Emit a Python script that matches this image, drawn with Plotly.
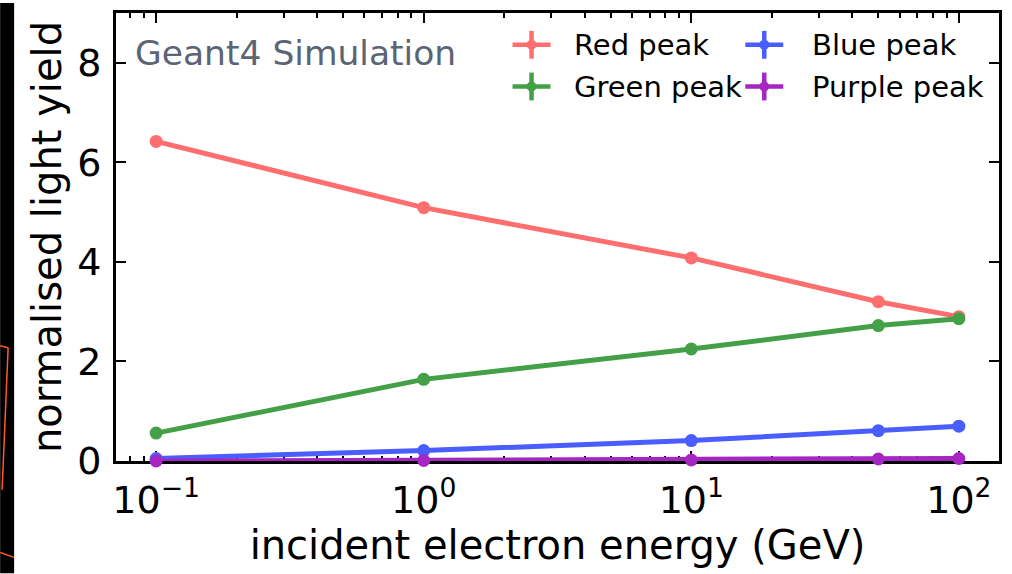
import plotly.graph_objects as go

# incident electron energies (GeV)
energy = [0.1, 1, 10, 50, 100]

# normalised light yield per emission peak
red_peak = [6.42, 5.09, 4.08, 3.20, 2.90]
green_peak = [0.56, 1.64, 2.25, 2.72, 2.86]
blue_peak = [0.05, 0.21, 0.41, 0.61, 0.70]
purple_peak = [0.00, 0.01, 0.02, 0.04, 0.05]

series_names = ["Red peak", "Green peak", "Blue peak", "Purple peak"]
series_values = [red_peak, green_peak, blue_peak, purple_peak]
series_colors = ["#ff6e6e", "#43a047", "#4a5dff", "#a626c4"]

x_tick_vals = [0.1, 1, 10, 100]
x_tick_text = ["10<sup>−1</sup>", "10<sup>0</sup>", "10<sup>1</sup>", "10<sup>2</sup>"]
y_tick_vals = [0, 2, 4, 6, 8]

W, H = 1012, 574
ML, MR, MT, MB = 116, 12, 10, 113
PW, PH = W - ML - MR, H - MT - MB
FONT = "DejaVu Sans"


def px(xp):
    return (xp - ML) / PW


def py(yp):
    return (H - MB - yp) / PH


fig = go.Figure()
for name, vals, col in zip(series_names, series_values, series_colors):
    fig.add_trace(go.Scatter(
        x=energy, y=vals, name=name, mode="lines+markers",
        line=dict(color=col, width=5),
        marker=dict(color=col, size=13),
        showlegend=False, cliponaxis=False,
    ))

shapes = []
annotations = []

# legend with errorbar-style glyphs, two columns
legend_cols = [(532, 573), (765, 811)]
legend_rows = [42, 84]
for i, name in enumerate(series_names):
    cx, tx = legend_cols[i // 2]
    cy = legend_rows[i % 2]
    col = series_colors[i]
    shapes.append(dict(type="line", xref="paper", yref="paper",
                       x0=px(cx - 19), x1=px(cx + 19), y0=py(cy), y1=py(cy),
                       line=dict(color=col, width=4.5)))
    shapes.append(dict(type="line", xref="paper", yref="paper",
                       x0=px(cx), x1=px(cx), y0=py(cy - 14), y1=py(cy + 14),
                       line=dict(color=col, width=4.5)))
    shapes.append(dict(type="circle", xref="paper", yref="paper",
                       x0=px(cx - 5), x1=px(cx + 5), y0=py(cy - 5), y1=py(cy + 5),
                       fillcolor=col, line=dict(width=0)))
    annotations.append(dict(text=name, xref="paper", yref="paper",
                            x=px(tx), y=py(cy), xanchor="left", yanchor="middle",
                            showarrow=False, font=dict(family=FONT, size=29, color="black")))

annotations.append(dict(text="Geant4 Simulation", xref="paper", yref="paper",
                        x=px(133), y=py(50), xanchor="left", yanchor="middle",
                        showarrow=False, font=dict(family=FONT, size=34.5, color="#5b6474")))

# dark slide edge on the far left
shapes.append(dict(type="rect", xref="paper", yref="paper",
                   x0=px(0), x1=px(14), y0=py(0), y1=py(H),
                   fillcolor="black", line=dict(width=0), layer="above"))
for (xa, ya, xb, yb) in [(0, 345, 8, 347), (8, 347, 2, 490), (0, 553, 14, 558)]:
    shapes.append(dict(type="line", xref="paper", yref="paper",
                       x0=px(xa), y0=py(ya), x1=px(xb), y1=py(yb),
                       line=dict(color="#ff5a1f", width=1.5), layer="above"))

minor_vals = [m * 10 ** k for k in range(-2, 3) for m in range(2, 10)]

fig.update_layout(
    width=W, height=H,
    margin=dict(l=ML, r=MR, t=MT, b=MB),
    paper_bgcolor="white", plot_bgcolor="white",
    font=dict(family=FONT, color="black"),
    shapes=shapes, annotations=annotations,
    xaxis=dict(
        type="log", range=[-1.15, 2.15],
        tickmode="array", tickvals=x_tick_vals, ticktext=x_tick_text,
        ticks="inside", ticklen=10, tickwidth=2, tickcolor="black",
        minor=dict(tickmode="array", tickvals=minor_vals, ticks="inside",
                   ticklen=5, tickwidth=1.5, tickcolor="black", showgrid=False),
        showline=True, linewidth=3, linecolor="black", mirror="allticks",
        showgrid=False, zeroline=False, layer="below traces",
        tickfont=dict(size=38, family=FONT),
        ticklabelstandoff=3,
        title=dict(text="incident electron energy (GeV)", font=dict(size=40, family=FONT), standoff=8),
    ),
    yaxis=dict(
        range=[0, 9], tickmode="array", tickvals=y_tick_vals,
        ticks="inside", ticklen=10, tickwidth=2, tickcolor="black",
        showline=True, linewidth=3, linecolor="black", mirror="allticks",
        showgrid=False, zeroline=False, layer="below traces",
        tickfont=dict(size=38, family=FONT),
        ticklabelstandoff=4,
        title=dict(text="normalised light yield", font=dict(size=40, family=FONT), standoff=4),
    ),
)

fig.write_html("out.html")
